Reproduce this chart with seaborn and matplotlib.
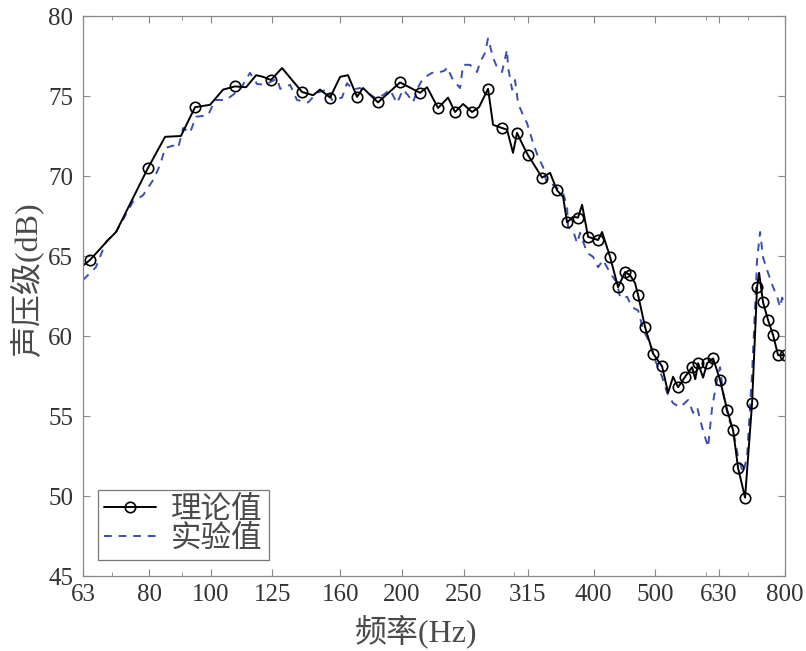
import numpy as np
import pandas as pd
import matplotlib
matplotlib.use('Agg')
import matplotlib.pyplot as plt
import seaborn as sns
from matplotlib.ticker import FixedLocator, FixedFormatter, LogLocator, NullFormatter

# theory curve (frequency in Hz, SPL in dB)
theory_freq = [63.0, 64.6, 69.0, 71.0, 79.7, 84.8, 89.8, 94.5, 99.8, 104.6,
               109.2, 113.7, 117.9, 120.9, 124.4, 129.5, 139.2, 144.9, 148.6, 154.1,
               159.8, 164.4, 169.9, 173.6, 183.3, 198.5, 213.4, 218.9, 227.8, 236.2,
               242.2, 249.4, 257.6, 264.2, 273.0, 278.0, 287.2, 292.4, 298.8, 303.2,
               309.9, 315.5, 323.7, 332.0, 341.7, 350.5, 358.2, 363.4, 371.4, 378.1,
               383.7, 392.1, 406.6, 412.5, 424.6, 437.1, 448.3, 456.5, 464.9, 470.0,
               482.0, 496.2, 512.6, 523.8, 533.4, 543.1, 557.1, 571.4, 578.0, 584.0,
               594.6, 603.3, 616.6, 632.3, 648.5, 662.9, 674.9, 692.2, 710.0, 722.9,
               728.3, 738.8, 752.3, 766.2, 780.1, 800.0]
theory_db = [64.4, 64.75, 66.0, 66.5, 70.5, 72.45, 72.5, 74.3, 74.45, 75.4,
             75.6, 75.55, 76.3, 76.2, 76.0, 76.75, 75.25, 75.05, 75.4, 74.9,
             76.2, 76.3, 74.95, 75.5, 74.6, 75.85, 75.2, 75.55, 74.25, 74.9,
             74.0, 74.5, 74.0, 74.3, 75.45, 73.2, 73.0, 72.9, 71.45, 72.7,
             71.9, 71.3, 70.6, 69.9, 70.2, 69.1, 68.7, 67.1, 67.45, 67.4,
             68.2, 66.2, 66.0, 66.5, 64.95, 63.05, 64.0, 63.8, 63.3, 62.55,
             60.55, 58.9, 58.1, 56.45, 57.45, 56.8, 57.45, 58.05, 57.3, 58.3,
             57.4, 58.3, 58.6, 57.25, 55.4, 54.1, 51.75, 49.9, 55.8, 63.05,
             63.95, 62.1, 61.0, 60.05, 58.8, 58.8]
theory_marks = [1, 4, 7, 10, 14, 16, 19, 22, 24, 25, 26, 28, 30, 32, 34, 36, 39,
                41, 43, 45, 47, 49, 51, 52, 54, 55, 56, 57, 59, 60, 61, 62, 65,
                66, 67, 69, 71, 72, 73, 74, 75, 76, 77, 78, 79, 81, 82, 83, 84, 85]

# measured curve
exp_freq = [63.0, 66.0, 68.5, 71.0, 75.5, 78.3, 81.2, 83.3, 84.8, 87.3,
            88.9, 90.5, 92.8, 94.8, 99.1, 101.6, 105.7, 111.2, 115.3, 118.3,
            121.8, 127.2, 128.6, 133.3, 136.7, 142.3, 147.0, 152.4, 155.2, 160.9,
            163.8, 167.4, 171.7, 176.1, 181.3, 186.6, 191.4, 196.3, 200.7, 204.3,
            208.1, 211.9, 215.7, 222.9, 227.8, 233.6, 235.3, 240.5, 246.7, 249.4,
            255.8, 262.3, 265.2, 270.0, 273.0, 278.0, 282.0, 287.2, 292.4, 293.5,
            297.8, 301.0, 304.3, 309.9, 314.4, 321.4, 327.2, 333.2, 338.1, 345.5,
            354.3, 358.2, 363.4, 364.7, 371.4, 376.8, 380.9, 390.7, 399.3, 406.6,
            414.0, 424.6, 435.6, 440.3, 451.6, 459.9, 470.0, 478.5, 490.8, 499.7,
            512.6, 521.9, 533.4, 547.1, 563.2, 573.5, 581.9, 592.5, 605.5, 614.4,
            625.4, 632.3, 639.2, 650.9, 662.9, 674.9, 687.3, 697.3, 710.0, 717.8,
            722.9, 730.9, 738.8, 752.3, 766.2, 777.4, 785.9, 791.5, 800.0]
exp_db = [63.5, 64.3, 65.9, 66.5, 68.4, 68.8, 69.75, 70.7, 71.75, 71.9,
          71.75, 73.0, 72.7, 73.7, 73.8, 74.75, 74.75, 75.4, 76.45, 75.75,
          75.7, 76.1, 75.45, 75.7, 74.75, 74.6, 75.2, 75.4, 74.75, 74.9,
          75.8, 75.4, 75.5, 75.2, 74.9, 75.05, 75.4, 74.55, 75.4, 75.05,
          74.6, 75.55, 76.1, 76.45, 76.45, 76.6, 76.8, 76.0, 75.5, 76.95,
          76.95, 76.5, 77.1, 77.7, 78.6, 77.4, 76.8, 76.5, 77.9, 76.8,
          75.4, 76.0, 74.55, 73.8, 73.3, 72.05, 71.2, 70.55, 69.45, 69.45,
          69.1, 68.95, 68.05, 66.8, 66.6, 65.8, 66.45, 65.2, 64.95, 64.3,
          64.75, 63.95, 63.3, 62.4, 62.45, 61.8, 61.6, 60.4, 59.55, 58.5,
          57.45, 56.45, 55.8, 55.55, 56.0, 55.2, 55.55, 54.3, 53.05, 55.55,
          57.25, 58.05, 56.45, 54.95, 54.1, 52.45, 51.45, 52.45, 57.7, 61.8,
          64.75, 66.5, 64.9, 63.95, 63.05, 62.45, 61.8, 62.4, 61.95]

xticks = [63, 80, 100, 125, 160, 200, 250, 315, 400, 500, 630, 800]
yticks = [45, 50, 55, 60, 65, 70, 75, 80]

sns.set_style("ticks")
fonts = ['Liberation Serif', 'Noto Sans CJK SC']
plt.rcParams['font.family'] = fonts
plt.rcParams['axes.unicode_minus'] = False

fig = plt.figure(figsize=(8.06, 6.51), dpi=100)
ax = fig.add_axes([0.103, 0.1152, 0.871, 0.8602])

sns.lineplot(x=exp_freq, y=exp_db, ax=ax, sort=False, color='#3a4fb0',
             linewidth=1.4, linestyle=(0, (4, 3.5)), label='实验值')
sns.lineplot(x=theory_freq, y=theory_db, ax=ax, sort=False, color='black',
             linewidth=1.4, marker='o', markevery=theory_marks, markersize=7.5,
             markerfacecolor='none', markeredgecolor='black', markeredgewidth=1.2,
             label='理论值')

ax.set_xscale('log')
ax.set_xlim(63, 800)
ax.set_ylim(45, 80)
ax.xaxis.set_major_locator(FixedLocator(xticks))
ax.xaxis.set_major_formatter(FixedFormatter([str(t) for t in xticks]))
ax.xaxis.set_minor_locator(LogLocator(base=10, subs=np.arange(2, 10)))
ax.xaxis.set_minor_formatter(NullFormatter())
ax.set_yticks(yticks)

ax.tick_params(which='both', direction='in', top=True, right=True,
               colors='#888888', labelcolor='#333333', labelsize=18)
ax.tick_params(which='major', length=5)
ax.tick_params(axis='x', which='major', pad=6)
ax.tick_params(axis='y', which='major', pad=7)
ax.tick_params(which='minor', length=3)
for s in ax.spines.values():
    s.set_color('#888888')
    s.set_linewidth(0.9)

ax.set_xlabel('频率(Hz)', fontsize=23, color='#4a4a4a')
ax.set_ylabel('声压级(dB)', fontsize=23, color='#4a4a4a')
ax.xaxis.set_label_coords(0.474, -0.068)
ax.yaxis.set_label_coords(-0.056, 0.53)

handles, labels = ax.get_legend_handles_labels()
leg = ax.legend(handles[::-1], labels[::-1], loc='lower left',
                bbox_to_anchor=(0.021, 0.029), borderaxespad=0, fontsize=22,
                frameon=True, fancybox=False, edgecolor='#555555',
                handlelength=1.7, handletextpad=0.5, borderpad=0.2,
                labelspacing=0.0)
leg.get_frame().set_linewidth(0.9)
for t in leg.get_texts():
    t.set_color('#4a4a4a')

fig.savefig('out.png', dpi=100)
